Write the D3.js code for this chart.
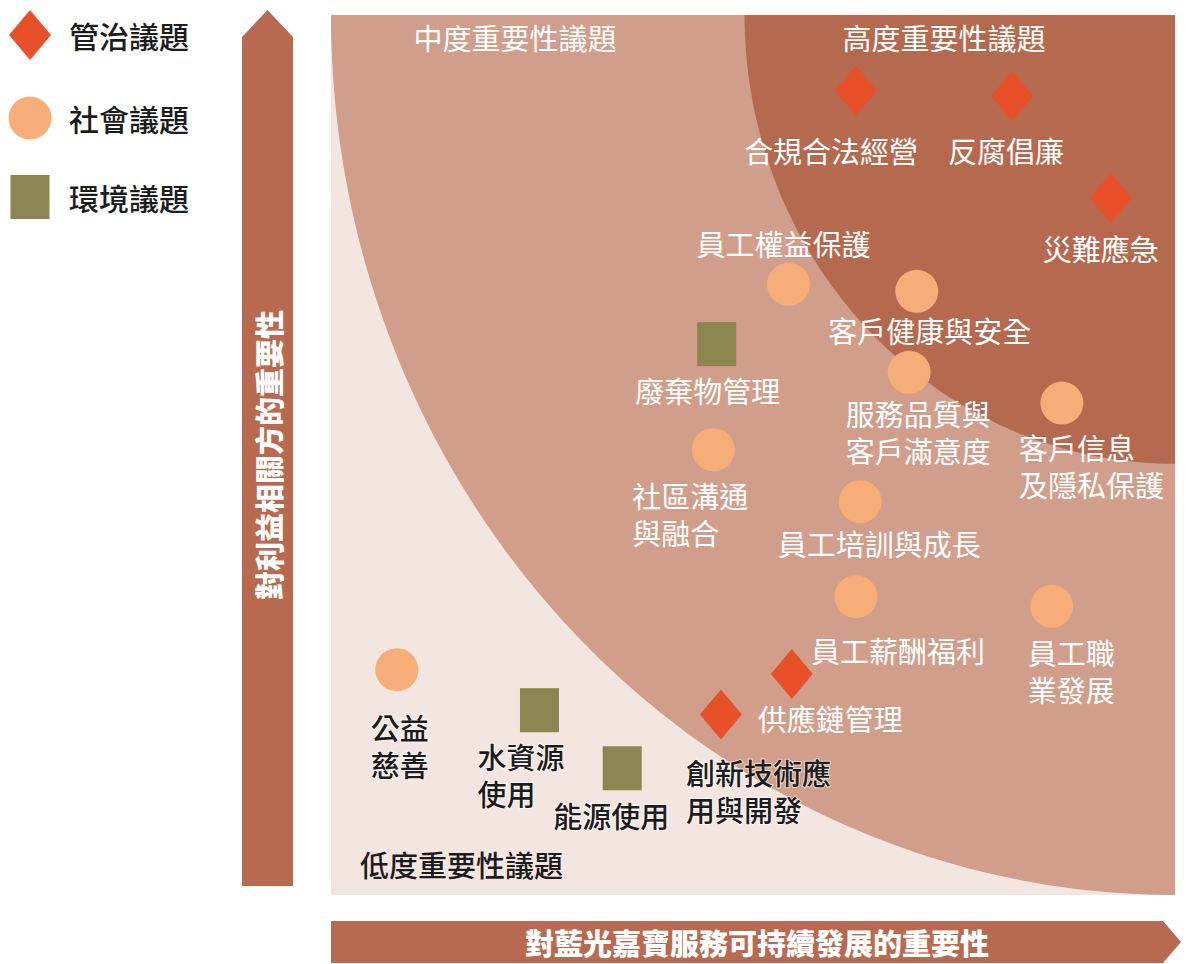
<!DOCTYPE html>
<html>
<head>
<meta charset="utf-8">
<script src="https://cdn.jsdelivr.net/npm/d3@7/dist/d3.min.js"></script>
<style>
  html, body { margin: 0; padding: 0; background: #ffffff; }
  svg { display: block; }
  text { font-family: "Noto Sans CJK TC", "Noto Sans CJK SC", sans-serif; }
</style>
</head>
<body>
<svg id="chart" width="1186" height="964"></svg>
<script>
// ---------------- DATA ----------------
const issueNames = [
  "合規合法經營", "反腐倡廉", "災難應急", "供應鏈管理", "創新技術應\n用與開發",
  "員工權益保護", "客戶健康與安全", "服務品質與\n客戶滿意度", "客戶信息\n及隱私保護",
  "社區溝通\n與融合", "員工培訓與成長", "員工薪酬福利", "員工職\n業發展", "公益\n慈善",
  "廢棄物管理", "水資源\n使用", "能源使用"
];
const issueTypes = [
  "gov", "gov", "gov", "gov", "gov",
  "soc", "soc", "soc", "soc", "soc", "soc", "soc", "soc", "soc",
  "env", "env", "env"
];
// importance to sustainable development (x) and to stakeholders (y), 0-10
const sustainabilityImportance = [6.22, 8.07, 9.24, 5.46, 4.62, 5.42, 6.94, 6.85, 8.66, 4.53, 6.27, 6.22, 8.54, 0.78, 4.57, 2.47, 3.45];
const stakeholderImportance   = [9.14, 9.08, 7.92, 2.51, 2.05, 6.94, 6.86, 5.94, 5.59, 5.06, 4.47, 3.39, 3.28, 2.56, 6.26, 2.10, 1.44];

const legendLabels = ["管治議題", "社會議題", "環境議題"];
const legendTypes = ["gov", "soc", "env"];
const zoneLabels = ["低度重要性議題", "中度重要性議題", "高度重要性議題"];
const zoneRadii = [10, 5.1];          // materiality zone boundaries, measured from (10,10)
const xAxisTitle = "對藍光嘉寶服務可持續發展的重要性";
const yAxisTitle = "對利益相關方的重要性";

// ---------------- LAYOUT / STYLE ----------------
const W = 1186, H = 964;
const plot = { left: 331, right: 1175, top: 15, bottom: 895 };
const colors = {
  light: "#f3e5e0", medium: "#d09e8b", dark: "#b5694f", arrow: "#b86a50",
  gov: "#e8502a", soc: "#f6ad78", env: "#8d8550", darkText: "#1c1c1c"
};
// label placement relative to marker (pixels): dx, dy of first line centre, anchor, colour
const labelLayout = [
  { dx: -25, dy: 59, a: "middle", c: "w" },
  { dx: -6, dy: 54, a: "middle", c: "w" },
  { dx: -10, dy: 50, a: "middle", c: "w" },
  { dx: -34, dy: 44, a: "start", c: "w" },
  { dx: -35, dy: 57, a: "start", c: "d" },
  { dx: -5, dy: -41, a: "middle", c: "w" },
  { dx: 13, dy: 39, a: "middle", c: "w" },
  { dx: 9, dy: 41, a: "middle", c: "w" },
  { dx: -43, dy: 44, a: "start", c: "w" },
  { dx: -81, dy: 45, a: "start", c: "w" },
  { dx: 19, dy: 41, a: "middle", c: "w" },
  { dx: 42, dy: 53, a: "middle", c: "w" },
  { dx: -24, dy: 46, a: "start", c: "w" },
  { dx: -26, dy: 57, a: "start", c: "d" },
  { dx: -9, dy: 46, a: "middle", c: "w" },
  { dx: -62, dy: 46, a: "start", c: "d" },
  { dx: -11, dy: 47, a: "middle", c: "d" }
];
const lineGap = 37;
const fontSize = 29;

const svg = d3.select("#chart");
const x = d3.scaleLinear().domain([0, 10]).range([plot.left, plot.right]);
const y = d3.scaleLinear().domain([0, 10]).range([plot.bottom, plot.top]);

// clip
svg.append("defs").append("clipPath").attr("id", "plotClip")
  .append("rect").attr("x", plot.left).attr("y", plot.top)
  .attr("width", plot.right - plot.left).attr("height", plot.bottom - plot.top);

const g = svg.append("g").attr("clip-path", "url(#plotClip)");
g.append("rect").attr("x", plot.left).attr("y", plot.top)
  .attr("width", plot.right - plot.left).attr("height", plot.bottom - plot.top)
  .attr("fill", colors.light);

function zonePath(r) {
  const pts = [[10, 10]];
  const n = 120;
  for (let i = 0; i <= n; i++) {
    const t = Math.PI + (Math.PI / 2) * (i / n);
    pts.push([10 + r * Math.cos(t), 10 + r * Math.sin(t)]);
  }
  pts.push([10, 10]);
  return d3.line().x(d => x(d[0])).y(d => y(d[1]))(pts) + "Z";
}
g.append("path").attr("d", zonePath(zoneRadii[0])).attr("fill", colors.medium);
g.append("path").attr("d", zonePath(zoneRadii[1])).attr("fill", colors.dark);

// zone labels
svg.append("text").attr("x", 360).attr("y", 864).attr("dominant-baseline", "central")
  .attr("font-size", fontSize).attr("fill", colors.darkText).attr("font-weight", 500)
  .text(zoneLabels[0]);
svg.append("text").attr("x", 515).attr("y", 37).attr("dominant-baseline", "central")
  .attr("text-anchor", "middle").attr("font-size", fontSize).attr("fill", "#fff")
  .text(zoneLabels[1]);
svg.append("text").attr("x", 944).attr("y", 37).attr("dominant-baseline", "central")
  .attr("text-anchor", "middle").attr("font-size", fontSize).attr("fill", "#fff")
  .text(zoneLabels[2]);

// markers
function drawMarker(sel, type, cx, cy) {
  if (type === "gov") {
    sel.append("path")
      .attr("d", `M${cx},${cy - 25}L${cx + 21},${cy}L${cx},${cy + 25}L${cx - 21},${cy}Z`)
      .attr("fill", colors.gov);
  } else if (type === "soc") {
    sel.append("circle").attr("cx", cx).attr("cy", cy).attr("r", 21.5).attr("fill", colors.soc);
  } else {
    sel.append("rect").attr("x", cx - 19.5).attr("y", cy - 22).attr("width", 39).attr("height", 44)
      .attr("fill", colors.env);
  }
}

const marks = svg.append("g");
issueNames.forEach((name, i) => {
  const cx = x(sustainabilityImportance[i]);
  const cy = y(stakeholderImportance[i]);
  drawMarker(marks, issueTypes[i], cx, cy);
});

const labels = svg.append("g");
issueNames.forEach((name, i) => {
  const cx = x(sustainabilityImportance[i]);
  const cy = y(stakeholderImportance[i]);
  const L = labelLayout[i];
  const dark = L.c === "d";
  const t = labels.append("text")
    .attr("font-size", fontSize)
    .attr("text-anchor", L.a)
    .attr("fill", dark ? colors.darkText : "#ffffff")
    .attr("font-weight", dark ? 500 : 400);
  if (dark) {
    t.attr("stroke", "rgba(255,255,255,0.6)").attr("stroke-width", 2).attr("paint-order", "stroke");
  }
  name.split("\n").forEach((line, k) => {
    t.append("tspan").attr("x", cx + L.dx).attr("y", cy + L.dy + k * lineGap)
      .attr("dominant-baseline", "central").text(line);
  });
});

// legend
const legend = svg.append("g");
const legendY = [35, 118, 197];
legendLabels.forEach((lab, i) => {
  drawMarker(legend, legendTypes[i], 30, legendY[i]);
  legend.append("text").attr("x", 69).attr("y", legendY[i]).attr("dominant-baseline", "central")
    .attr("font-size", 30).attr("font-weight", 500).attr("fill", colors.darkText).text(lab);
});

// y axis arrow
const ya = { l: 242, r: 293, top: 10, shoulder: 37, bottom: 886 };
svg.append("path")
  .attr("d", `M${ya.l},${ya.bottom}L${ya.l},${ya.shoulder}L${(ya.l + ya.r) / 2},${ya.top}L${ya.r},${ya.shoulder}L${ya.r},${ya.bottom}Z`)
  .attr("fill", colors.arrow);
svg.append("text")
  .attr("transform", `translate(${(ya.l + ya.r) / 2},${(plot.top + plot.bottom) / 2}) rotate(-90)`)
  .attr("text-anchor", "middle").attr("dominant-baseline", "central")
  .attr("font-size", 29).attr("font-weight", 900).attr("fill", "#ffffff")
  .text(yAxisTitle);

// x axis arrow
const xa = { l: plot.left, r: 1163, tip: 1181, top: 921, bottom: 963 };
svg.append("path")
  .attr("d", `M${xa.l},${xa.top}L${xa.r},${xa.top}L${xa.tip},${(xa.top + xa.bottom) / 2}L${xa.r},${xa.bottom}L${xa.l},${xa.bottom}Z`)
  .attr("fill", colors.arrow);
svg.append("text")
  .attr("x", 757).attr("y", (xa.top + xa.bottom) / 2)
  .attr("text-anchor", "middle").attr("dominant-baseline", "central")
  .attr("font-size", 29).attr("font-weight", 900).attr("fill", "#ffffff")
  .text(xAxisTitle);
</script>
</body>
</html>
